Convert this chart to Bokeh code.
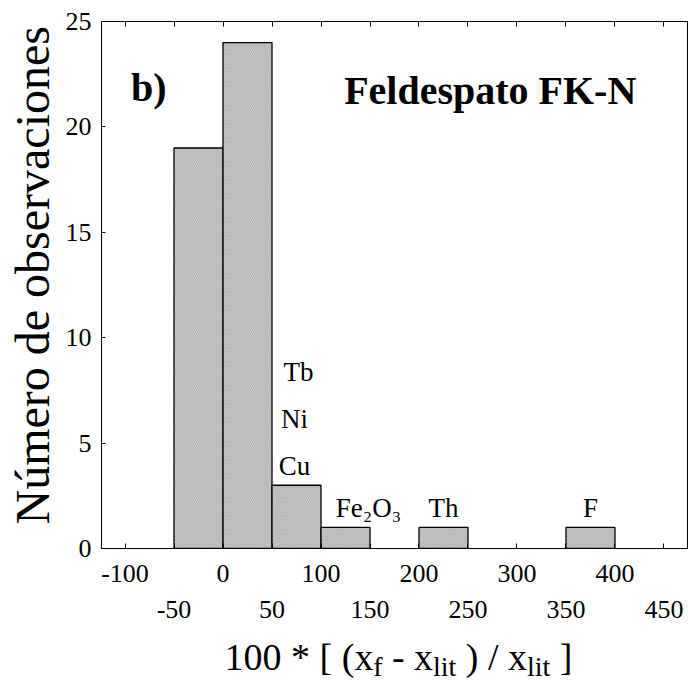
from bokeh.plotting import figure
from bokeh.models import FixedTicker, LinearAxis, Label, Range1d, ColumnDataSource, Title
from bokeh.layouts import column
from bokeh.embed import file_html
from bokeh.resources import INLINE
from bokeh.core.properties import value

# ---- data ----
bin_left = [-50, 0, 50, 100, 200, 350]
bin_right = [0, 50, 100, 150, 250, 400]
counts = [19, 24, 3, 1, 1, 1]

x_major_ticks = [-100, 0, 100, 200, 300, 400]
x_minor_ticks = [-50, 50, 150, 250, 350, 450]
y_ticks = [0, 5, 10, 15, 20, 25]

element_names = ["Cu", "Ni", "Tb", "Fe\u2082O\u2083", "Th", "F"]
element_bin = [2, 2, 2, 3, 4, 5]

panel_letter = "b)"
panel_title = "Feldespato FK-N"
y_title = "Número de observaciones"

FONT = "Liberation Serif"
W_TOTAL = 688
L_BORDER, R_BORDER = 100, 1
H1, H2 = 634, 54

def hyphen_labels(ticks):
    return {t: str(t) for t in ticks if t < 0}

# ---- main figure ----
p = figure(width=W_TOTAL, height=H1, x_range=Range1d(-124, 474), y_range=Range1d(0, 25),
           output_backend="svg", toolbar_location=None,
           x_axis_type=None, y_axis_type=None,
           min_border_left=L_BORDER, min_border_top=21, min_border_bottom=H1 - 548,
           min_border_right=R_BORDER)
p.outline_line_color = "black"
p.outline_line_width = 1

bars = ColumnDataSource(dict(left=bin_left, right=bin_right, top=counts,
                             bottom=[0] * len(counts)))
p.quad(left="left", right="right", top="top", bottom="bottom", source=bars,
       fill_color="#d4d4d4", line_color="black", line_width=1.3,
       hatch_pattern="left_diagonal_line", hatch_color="#8c8c8c",
       hatch_scale=3.5, hatch_weight=0.6)

# ---- axes ----
xa = LinearAxis(ticker=FixedTicker(ticks=x_major_ticks, minor_ticks=x_minor_ticks))
xa.major_tick_in = 5
xa.major_tick_out = 0
xa.minor_tick_in = 5
xa.minor_tick_out = 0
xa.major_label_text_font = FONT
xa.major_label_text_font_size = "26px"
xa.major_label_text_color = "black"
xa.major_label_standoff = 16
xa.major_label_overrides = hyphen_labels(x_major_ticks)
xa.axis_line_color = "black"
p.add_layout(xa, "below")

xa2 = LinearAxis(ticker=FixedTicker(ticks=x_minor_ticks, minor_ticks=[]))
xa2.axis_line_color = None
xa2.major_tick_line_color = None
xa2.minor_tick_line_color = None
xa2.major_label_text_font = FONT
xa2.major_label_text_font_size = "26px"
xa2.major_label_text_color = "black"
xa2.major_label_standoff = 10
xa2.major_label_overrides = hyphen_labels(x_minor_ticks)
p.add_layout(xa2, "below")

xt = LinearAxis(ticker=FixedTicker(ticks=x_major_ticks, minor_ticks=x_minor_ticks))
xt.major_tick_in = 5
xt.major_tick_out = 0
xt.minor_tick_in = 5
xt.minor_tick_out = 0
xt.major_label_overrides = {t: "" for t in x_major_ticks}
xt.major_label_standoff = 0
p.add_layout(xt, "above")

ya = LinearAxis(ticker=FixedTicker(ticks=y_ticks, minor_ticks=[]))
ya.major_tick_in = 4
ya.major_tick_out = 0
ya.major_label_text_font = FONT
ya.major_label_text_font_size = "26px"
ya.major_label_text_color = "black"
ya.major_label_standoff = 10
p.add_layout(ya, "left")

yt = Title(text=y_title, align="left", offset=24, standoff=7,
           text_font=FONT, text_font_size="48px", text_font_style="normal",
           text_color="black")
p.add_layout(yt, "left")

# ---- element labels above bars ----
centers = [(bin_left[i] + bin_right[i]) / 2 for i in element_bin]
tops = [counts[i] for i in element_bin]
stack_level = [0, 1, 2, 0, 0, 0]
x_shift = [-2, -2, 2, 23, 0, 0]
lab_src = ColumnDataSource(dict(x=centers, y=tops, text=element_names,
                                yo=[-19 - 47 * s for s in stack_level], xo=x_shift))
p.text(x="x", y="y", text="text", x_offset="xo", y_offset="yo", source=lab_src,
       text_font=value(FONT), text_font_size="27px", text_align="center",
       text_baseline="middle", text_color="black")

# ---- panel letter and title ----
p.add_layout(Label(x=-94, y=21.87, text=panel_letter, text_font=FONT,
                   text_font_size="40px", text_font_style="bold", text_color="black",
                   text_baseline="middle"))
title_src = ColumnDataSource(dict(x=[123.6], y=[21.75], text=[panel_title]))
p.text(x="x", y="y", text="text", source=title_src, text_font=value(FONT),
       text_font_size="40px", text_font_style="bold", text_color="black",
       text_align="left", text_baseline="middle")

# ---- x axis title (with subscripts) in a strip below ----
p2 = figure(width=W_TOTAL, height=H2, x_range=Range1d(L_BORDER, W_TOTAL - R_BORDER),
            y_range=Range1d(0, H2),
            output_backend="svg", toolbar_location=None, x_axis_type=None, y_axis_type=None,
            min_border_left=L_BORDER, min_border_right=R_BORDER,
            min_border_top=0, min_border_bottom=0)
p2.outline_line_color = None

W = {c: 500 for c in "0123456789"}
W.update({' ': 250, '*': 500, '[': 333, ']': 333, '(': 333, ')': 333, 'x': 500,
          'f': 333, '-': 333, 'l': 278, 'i': 278, 't': 278, '/': 278})
MAIN, SUB = 38, 28
pieces = [("100 * [ (x", MAIN, 0), ("f", SUB, 0), ("- x", MAIN, 1), ("lit", SUB, 0),
          (") / x", MAIN, 1), ("lit", SUB, 0), ("]", MAIN, 1)]

def tw(s, size):
    return sum(W.get(c, 500) for c in s) * size / 1000.0

total = sum(pre * W[' '] * MAIN / 1000.0 + tw(s, sz) for s, sz, pre in pieces)
center = (L_BORDER + W_TOTAL - R_BORDER) / 2 + 4
pos = center - total / 2
xs, ys, txt, sizes = [], [], [], []
for s, sz, pre in pieces:
    pos += pre * W[' '] * MAIN / 1000.0
    xs.append(pos)
    ys.append(32 if sz == MAIN else 22)
    txt.append(s)
    sizes.append(f"{sz}px")
    pos += tw(s, sz)
xl_src = ColumnDataSource(dict(x=xs, y=ys, text=txt, size=sizes))
p2.text(x="x", y="y", text="text", text_font_size="size", source=xl_src,
        text_font=value(FONT), text_align="left", text_baseline="alphabetic",
        text_color="black")

layout = column(p, p2, spacing=0)
open("out.html", "w").write(file_html(layout, INLINE))
